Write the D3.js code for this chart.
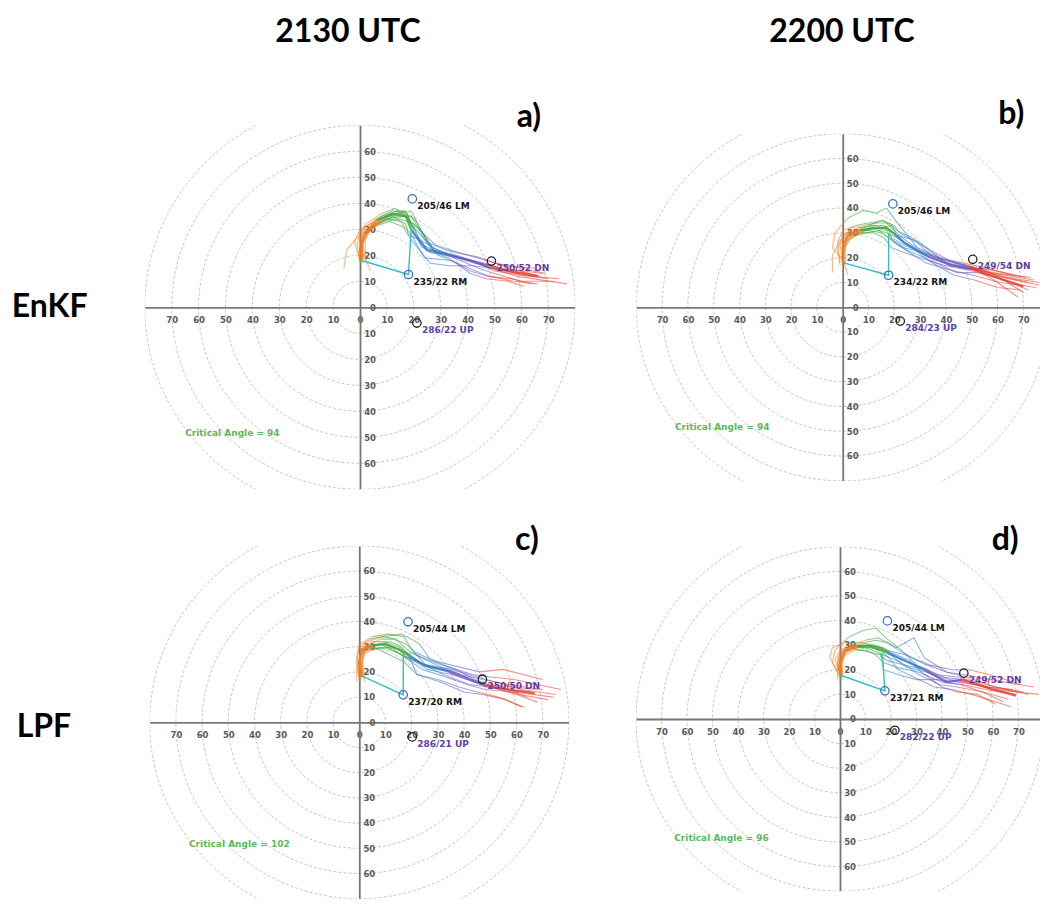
<!DOCTYPE html>
<html>
<head>
<meta charset="utf-8">
<script src="https://cdn.jsdelivr.net/npm/d3@7"></script>
<style>
  body { margin: 0; background: #fff; }
  svg { display: block; }
  .big { font-family: Lato, 'Open Sans', sans-serif; font-weight: bold; font-size: 32px; fill: #000; }
  .lbl { font-family: 'DejaVu Sans', sans-serif; font-weight: bold; font-size: 9px; }
</style>
</head>
<body>
<div id="main"></div>
<script>
// chart data
const columnTitles = ['2130 UTC', '2200 UTC'];
const rowTitles = ['EnKF', 'LPF'];
const panelLetters = ['a)', 'b)', 'c)', 'd)'];
const ringRadii = [10, 20, 30, 40, 50, 60, 70, 80];
const xTickValues = [-70, -60, -50, -40, -30, -20, -10, 0, 10, 20, 30, 40, 50, 60, 70];
const yTickValues = [-60, -50, -40, -30, -20, -10, 0, 10, 20, 30, 40, 50, 60];
// point index where each height layer (orange, green, blue, purple, red) starts/ends
const layerBreaks = [0, 3, 6, 8, 10, 12];
const criticalAngles = [94, 94, 102, 96];

// ensemble hodographs, flat u,v pairs (kt)
const membersA = [
  [0,18, 0,23, 1,28, 5,32, 11,35, 16,36, 20,31, 23,24, 30,21, 38,19, 46,17, 55,14, 63,13],
  [1,19, 0,26, 2,30, 8,35, 14,37, 18,34, 21,28, 26,21, 35,20, 43,17, 49,16, 58,13, 70,11],
  [0,17, -1,24, 0,29, 6,34, 12,37, 17,37, 19,32, 25,25, 32,22, 40,20, 47,18, 54,16, 65,15],
  [2,18, 1,25, 3,30, 9,33, 15,34, 20,32, 23,29, 27,23, 35,19, 44,15, 50,13, 60,10, 72,10],
  [-6,15, -5,22, -1,27, 4,31, 10,34, 15,33, 19,28, 24,19, 34,18, 41,14, 47,12, 56,11, 64,9],
  [4,14, 1,21, 1,27, 6,32, 13,35, 19,35, 22,30, 28,24, 37,21, 45,19, 50,17, 60,15, 69,13],
  [1,18, 1,24, 4,31, 10,35, 16,37, 21,33, 24,27, 29,20, 36,17, 43,14, 48,12, 57,10, 66,9],
  [0,19, 0,27, 2,32, 8,36, 13,38, 18,35, 20,29, 23,23, 31,21, 39,18, 46,16, 58,12, 77,9],
  [1,17, 0,22, 1,27, 5,31, 11,33, 16,31, 19,26, 26,17, 33,16, 42,16, 49,15, 59,14, 67,12],
  [0,18, -2,25, 0,30, 7,34, 14,36, 19,37, 22,31, 27,22, 36,20, 44,17, 50,14, 62,12, 74,11],
  [2,19, 2,26, 4,30, 10,34, 17,35, 22,30, 24,26, 28,21, 33,19, 41,13, 47,11, 55,10, 61,8],
  [0,18, 0,24, 3,29, 8,33, 12,35, 17,32, 18,28, 22,26, 29,22, 37,19, 45,17, 53,15, 68,13]
];
const meanA = [0.6,18.2, 0.6,24, 2,28.5, 6.5,33.5, 12,36, 17,35, 19.2,29.5, 24.8,22, 33,20, 41,18, 48,15.5, 57,13.5, 66,12];
const motionsA = [['LM', 205, 46], ['RM', 235, 22], ['DN', 250, 52], ['UP', 286, 22]];
const criticalA = [0.6, 18, 19, 30];

const membersB = [
  [0,18, -1,25, 1,30, 6,32, 11,33, 16,33, 20,30, 25,25, 32,21, 40,18, 49,16, 59,13, 72,10],
  [-1,17, -2,23, 0,29, 5,31, 10,31, 15,30, 18,28, 24,24, 31,22, 40,19, 51,16, 62,12, 76,9],
  [0,19, 0,27, 3,32, 8,33, 13,34, 18,34, 21,31, 27,28, 34,23, 43,18, 52,15, 60,10, 68,4],
  [1,18, -4,24, -3,30, 2,36, 8,39, 13,38, 17,40, 22,33, 29,24, 38,20, 47,17, 57,14, 74,11],
  [-4,14, -4,21, -1,27, 4,29, 9,30, 14,31, 19,27, 25,23, 34,19, 44,14, 52,14, 63,11, 72,7],
  [2,13, 0,20, 1,26, 6,30, 12,32, 17,31, 20,26, 26,22, 32,18, 42,15, 50,13, 61,10, 75,8],
  [0,18, 1,24, 3,28, 9,31, 14,32, 19,33, 21,29, 28,27, 35,22, 41,17, 48,16, 58,15, 71,12],
  [0,17, 0,22, 2,27, 7,30, 12,30, 16,28, 19,24, 24,22, 30,20, 39,17, 49,15, 61,12, 70,6],
  [1,19, 1,26, 4,30, 10,33, 15,35, 20,33, 22,30, 29,26, 34,21, 45,16, 53,15, 64,12, 76,10],
  [-1,18, -2,26, 0,31, 5,33, 10,34, 16,35, 19,32, 23,28, 30,23, 37,20, 46,18, 55,16, 66,13],
  [0,16, 0,23, 2,28, 6,31, 11,32, 17,30, 21,28, 27,24, 33,19, 43,13, 51,11, 60,8, 69,7],
  [1,18, 0,25, 2,29, 7,32, 13,33, 18,31, 19,28, 24,25, 31,22, 39,19, 48,17, 58,14, 73,12]
];
const meanB = [0,18, 0,24, 2,29, 7,31, 12,32, 17,32, 20,29.5, 24,26, 33,20.5, 42,17, 50,15.5, 61,11.5, 70,8.5];
const motionsB = [['LM', 205, 46], ['RM', 234, 22], ['DN', 249, 54], ['UP', 284, 23]];
const criticalB = [0, 18, 17.8, 29.8];

const membersC = [
  [1,18, 0,25, 1,30, 5,32, 10,32, 15,30, 19,27, 24,23, 32,21, 41,18, 47,15, 56,13, 66,12],
  [0,17, -1,24, 0,30, 4,33, 9,34, 14,33, 18,29, 23,26, 31,22, 39,19, 47,17, 57,15, 70,13],
  [2,16, 1,23, 2,28, 6,30, 11,29, 16,27, 20,25, 26,21, 35,19, 44,16, 51,14, 61,11, 72,9],
  [0,18, 0,26, 3,32, 9,34, 16,35, 20,33, 23,31, 27,25, 34,22, 43,19, 50,18, 59,17, 77,13],
  [1,19, 1,25, 2,29, 5,30, 9,28, 13,26, 17,24, 22,19, 30,17, 38,14, 45,12, 53,10, 63,6],
  [-1,16, -1,22, 1,27, 6,29, 12,30, 17,28, 21,27, 28,24, 37,21, 44,17, 49,15, 58,14, 68,13],
  [0,18, 0,23, 1,28, 4,30, 8,31, 13,29, 17,26, 24,21, 33,18, 41,15, 48,13, 59,12, 74,10],
  [1,17, 1,24, 3,30, 8,33, 13,33, 18,31, 21,28, 25,26, 30,24, 38,22, 46,20, 55,21, 70,17],
  [0,18, -1,26, 0,31, 5,34, 11,35, 17,34, 20,29, 26,22, 32,19, 42,15, 50,14, 60,11, 68,8],
  [2,18, 1,24, 2,29, 7,31, 12,32, 16,30, 19,26, 22,19, 31,16, 40,12, 47,11, 56,9, 62,6],
  [0,17, 0,25, 2,30, 6,31, 11,31, 15,29, 18,26, 25,23, 35,21, 45,18, 52,16, 62,13, 75,11],
  [1,18, 0,23, 1,28, 5,29, 10,30, 14,28, 19,25, 27,22, 36,20, 43,17, 49,15, 57,13, 64,10]
];
const meanC = [1,18, 0,24, 1,29, 5,30.5, 10,31, 15,29, 19,26.5, 25,22.5, 33,20.5, 42,17, 48,14.5, 57,13, 67,11.5];
const motionsC = [['LM', 205, 44], ['RM', 237, 20], ['DN', 250, 50], ['UP', 286, 21]];
const criticalC = [0.9, 18.4, 16.8, 27];

const membersD = [
  [0,18, -1,24, 1,28, 6,30, 11,30, 16,29, 19,27, 24,24, 32,21, 41,17, 48,16, 58,13, 70,11],
  [0,17, -3,23, -2,28, 3,33, 9,36, 14,37, 18,33, 24,28, 30,22, 38,18, 47,17, 57,14, 74,10],
  [1,16, 0,22, 2,27, 7,29, 12,29, 16,28, 19,25, 23,20, 29,17, 37,13, 44,12, 55,9, 67,5],
  [-1,19, -4,25, -3,29, 2,31, 8,31, 14,30, 18,28, 26,26, 34,22, 42,19, 49,18, 59,16, 76,13],
  [0,15, 0,21, 2,26, 6,28, 10,28, 14,26, 17,23, 22,21, 31,19, 40,15, 47,14, 56,11, 64,7],
  [1,18, 0,24, 3,29, 9,31, 14,32, 19,31, 22,29, 29,33, 33,25, 42,19, 50,17, 61,13, 72,11],
  [0,18, 0,25, 2,29, 8,30, 13,30, 18,28, 20,26, 26,21, 34,19, 43,16, 49,15, 60,12, 78,10],
  [0,17, -1,23, 0,27, 4,29, 8,28, 12,27, 17,26, 24,23, 31,18, 39,14, 46,13, 56,11, 66,8],
  [1,19, 1,25, 4,30, 10,32, 15,33, 20,30, 23,28, 28,25, 35,22, 44,20, 51,20, 62,17, 71,14],
  [0,18, -2,24, 0,28, 5,30, 10,29, 15,27, 18,24, 25,22, 33,20, 41,15, 48,14, 57,12, 69,10],
  [-1,16, -1,22, 1,27, 6,29, 11,30, 17,29, 20,27, 27,24, 32,19, 40,13, 46,11, 54,10, 61,6],
  [1,18, 0,23, 2,28, 7,30, 12,30, 16,27, 17,20, 23,18, 30,16, 38,16, 47,15, 58,13, 68,12]
];
const meanD = [0,18, 0,23, 2,27.5, 7,29.5, 11,29.5, 15,28.5, 18.5,27, 25,24, 33,20, 42,15, 48,16, 60,12, 69,9.5];
const motionsD = [['LM', 205, 44], ['RM', 237, 21], ['DN', 249, 52], ['UP', 282, 22]];
const criticalD = [0, 17.9, 16.6, 26.7];

// styling / layout
const W = 1040;
const H = 905;
const LAYER_COLORS = ['#f07a1c', '#35a335', '#2b7bbf', '#6257c0', '#e23a2a'];
const PANELS = [
  { cx: 360, cy: 307.3, kx: 2.69, ky: 2.6, lx: 516.7, ly: 126.7 },
  { cx: 842.7, cy: 307.3, kx: 2.58, ky: 2.48, lx: 998.3, ly: 124.3 },
  { cx: 359.3, cy: 722.3, kx: 2.62, ky: 2.52, lx: 515, ly: 550 },
  { cx: 840, cy: 719, kx: 2.55, ky: 2.46, lx: 991.7, ly: 550 }
];
const panelData = [
  { members: membersA, mean: meanA, motions: motionsA, critical: criticalA },
  { members: membersB, mean: meanB, motions: motionsB, critical: criticalB },
  { members: membersC, mean: meanC, motions: motionsC, critical: criticalC },
  { members: membersD, mean: meanD, motions: motionsD, critical: criticalD }
];

// helpers
const toPairs = (flat) => {
  const out = [];
  for (let i = 0; i < flat.length; i += 2) out.push([flat[i], flat[i + 1]]);
  return out;
};

// direction/speed (from) -> u,v
const toUV = (dir, spd) => {
  const r = (dir * Math.PI) / 180;
  return [-spd * Math.sin(r), -spd * Math.cos(r)];
};

const drawHodo = (props) => {
  const { g, pts, line, width, opacity } = props;
  for (let k = 0; k < LAYER_COLORS.length; k++) {
    const seg = pts.slice(layerBreaks[k], layerBreaks[k + 1] + 1);
    g.append('path')
      .attr('d', line(seg))
      .attr('fill', 'none')
      .attr('stroke', LAYER_COLORS[k])
      .attr('stroke-width', width)
      .attr('stroke-opacity', opacity)
      .attr('stroke-linejoin', 'round');
  }
};

const renderPanel = (props) => {
  const { svg, layout, data, index } = props;
  const { cx, cy, kx, ky } = layout;

  const xScale = d3.scaleLinear().domain([-80, 80]).range([cx - 80 * kx, cx + 80 * kx]);
  const yScale = d3.scaleLinear().domain([-70, 70]).range([cy + 70 * ky, cy - 70 * ky]);

  const clipId = `clip-${index}`;
  svg.append('clipPath')
    .attr('id', clipId)
    .append('rect')
    .attr('x', xScale(-80))
    .attr('y', yScale(70))
    .attr('width', xScale(80) - xScale(-80))
    .attr('height', yScale(-70) - yScale(70));

  const g = svg.append('g').attr('clip-path', `url(#${clipId})`);

  // range rings
  g.selectAll('.ring')
    .data(ringRadii)
    .enter()
    .append('ellipse')
    .attr('class', 'ring')
    .attr('cx', xScale(0))
    .attr('cy', yScale(0))
    .attr('rx', (d) => xScale(d) - xScale(0))
    .attr('ry', (d) => yScale(0) - yScale(d))
    .attr('fill', 'none')
    .attr('stroke', '#b8b8b8')
    .attr('stroke-width', 0.8)
    .attr('stroke-dasharray', '3,2');

  // axes through the origin
  const xAxis = g.append('g')
    .attr('transform', `translate(0,${yScale(0)})`)
    .call(d3.axisBottom(xScale).tickValues(xTickValues).tickSize(0).tickSizeOuter(0)
      .tickPadding(10).tickFormat((d) => Math.abs(d)));

  const yAxis = g.append('g')
    .attr('transform', `translate(${xScale(0)},0)`)
    .call(d3.axisRight(yScale).tickValues(yTickValues).tickSize(0).tickSizeOuter(0)
      .tickPadding(16).tickFormat((d) => Math.abs(d)));
  yAxis.selectAll('text').attr('text-anchor', 'end');

  [xAxis, yAxis].forEach((ax) => {
    ax.attr('font-family', 'DejaVu Sans, sans-serif')
      .attr('font-size', 8.5)
      .attr('font-weight', 'bold');
    ax.selectAll('text').attr('fill', '#5a5a5a');
    ax.select('.domain').attr('stroke', '#777').attr('stroke-width', 1.8);
  });

  const line = d3.line()
    .x((d) => xScale(d[0]))
    .y((d) => yScale(d[1]));

  // ensemble members then the mean
  data.members.forEach((m) => {
    drawHodo({ g, pts: toPairs(m), line, width: 1.1, opacity: 0.55 });
  });
  drawHodo({ g, pts: toPairs(data.mean), line, width: 2.3, opacity: 0.8 });

  // critical angle lines: surface wind -> RM -> low-level wind
  const rmMotion = data.motions.find((d) => d[0] === 'RM');
  const rm = toUV(rmMotion[1], rmMotion[2]);
  const crit = toPairs(data.critical);
  g.append('path')
    .attr('d', line([crit[0], rm, crit[1]]))
    .attr('fill', 'none')
    .attr('stroke', '#2fc0c8')
    .attr('stroke-width', 1.4);

  // storm motions
  const motions = data.motions.map((d) => ({
    name: d[0],
    dir: d[1],
    spd: d[2],
    uv: toUV(d[1], d[2]),
    storm: d[0] === 'LM' || d[0] === 'RM'
  }));

  g.selectAll('.motion')
    .data(motions)
    .enter()
    .append('circle')
    .attr('class', 'motion')
    .attr('cx', (d) => xScale(d.uv[0]))
    .attr('cy', (d) => yScale(d.uv[1]))
    .attr('r', 4.2)
    .attr('fill', 'none')
    .attr('stroke', (d) => (d.storm ? '#3b6fc4' : '#222'))
    .attr('stroke-width', 1.3);

  g.selectAll('.motion-label')
    .data(motions)
    .enter()
    .append('text')
    .attr('class', 'lbl motion-label')
    .attr('x', (d) => xScale(d.uv[0]) + 5)
    .attr('y', (d) => yScale(d.uv[1]) + 7)
    .attr('dy', '0.35em')
    .attr('fill', (d) => (d.storm ? '#151515' : '#5b3ea8'))
    .text((d) => `${d.dir}/${d.spd} ${d.name}`);

  g.append('text')
    .attr('class', 'lbl')
    .attr('x', xScale(-65))
    .attr('y', yScale(-48.3))
    .attr('dy', '0.35em')
    .attr('fill', '#5cb85c')
    .text(`Critical Angle = ${criticalAngles[index]}`);

  // panel letter
  svg.append('text')
    .attr('class', 'big')
    .attr('x', layout.lx)
    .attr('y', layout.ly)
    .text(panelLetters[index]);
};

const svg = d3.select('#main')
  .append('svg')
  .attr('width', W)
  .attr('height', H);

svg.append('rect').attr('width', W).attr('height', H).attr('fill', '#fff');

PANELS.forEach((layout, index) => {
  renderPanel({ svg, layout, data: panelData[index], index });
});

// column and row titles
svg.selectAll('.col-title')
  .data(columnTitles)
  .enter()
  .append('text')
  .attr('class', 'big col-title')
  .attr('x', (d, i) => [348, 842][i])
  .attr('y', 41.7)
  .attr('text-anchor', 'middle')
  .text((d) => d);

svg.selectAll('.row-title')
  .data(rowTitles)
  .enter()
  .append('text')
  .attr('class', 'big row-title')
  .attr('x', (d, i) => [11.7, 16.7][i])
  .attr('y', (d, i) => [316.7, 736.7][i])
  .text((d) => d);
</script>
</body>
</html>
